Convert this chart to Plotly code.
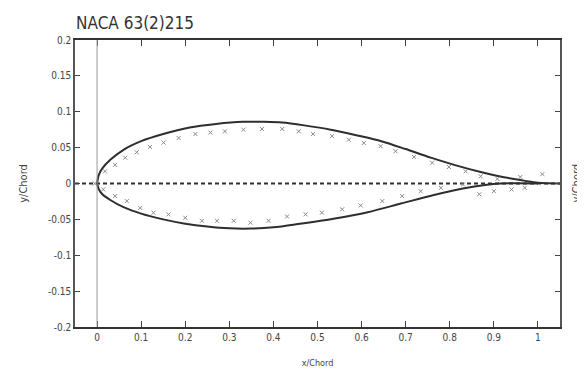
import plotly.graph_objects as go

# Solid airfoil (upper & lower surfaces)
upper_x = [0.0, 0.004, 0.012, 0.03, 0.06, 0.1, 0.15, 0.21, 0.27, 0.33, 0.38, 0.42, 0.47, 0.53, 0.59, 0.645, 0.70, 0.757, 0.81, 0.87, 0.92, 0.968, 1.0, 1.05]
upper_y = [0.0, 0.012, 0.021, 0.033, 0.047, 0.059, 0.069, 0.078, 0.083, 0.086, 0.086, 0.085, 0.081, 0.075, 0.067, 0.059, 0.048, 0.036, 0.026, 0.016, 0.009, 0.004, 0.001, 0.0]
lower_x = [0.0, 0.004, 0.012, 0.03, 0.06, 0.1, 0.15, 0.2, 0.25, 0.3, 0.35, 0.4, 0.46, 0.536, 0.614, 0.689, 0.764, 0.83, 0.88, 0.915, 1.0]
lower_y = [0.0, -0.008, -0.015, -0.023, -0.033, -0.042, -0.050, -0.056, -0.060, -0.0625, -0.0628, -0.061, -0.056, -0.049, -0.040, -0.028, -0.016, -0.007, -0.002, 0.0, 0.0]

# Comparison airfoil (marker points)
mark_upper_x = [-0.005, 0.018, 0.041, 0.064, 0.09, 0.12, 0.151, 0.185, 0.223, 0.257, 0.29, 0.332, 0.374, 0.42, 0.4575, 0.49, 0.533, 0.571, 0.605, 0.643, 0.677, 0.719, 0.76, 0.798, 0.836, 0.87, 0.908, 0.96, 1.01]
mark_upper_y = [0.0, 0.017, 0.026, 0.036, 0.0435, 0.051, 0.057, 0.0635, 0.069, 0.071, 0.0727, 0.075, 0.076, 0.076, 0.0727, 0.069, 0.066, 0.061, 0.0565, 0.052, 0.045, 0.037, 0.029, 0.023, 0.017, 0.010, 0.0065, 0.009, 0.013]
mark_lower_x = [0.014, 0.041, 0.0675, 0.098, 0.128, 0.162, 0.2, 0.238, 0.272, 0.31, 0.348, 0.389, 0.431, 0.473, 0.51, 0.556, 0.598, 0.647, 0.692, 0.734, 0.78, 0.83, 0.867, 0.9, 0.94, 0.97]
mark_lower_y = [-0.0083, -0.0176, -0.0245, -0.034, -0.0407, -0.043, -0.0477, -0.052, -0.052, -0.052, -0.0546, -0.052, -0.046, -0.043, -0.0407, -0.036, -0.0306, -0.0245, -0.0176, -0.0107, -0.006, -0.0014, -0.015, -0.0107, -0.0083, -0.006]

# Chord line
chord_x = [-0.05, 1.05]
chord_y = [0.0, 0.0]

x_ticks = [0, 0.1, 0.2, 0.3, 0.4, 0.5, 0.6, 0.7, 0.8, 0.9, 1]
x_ticktext = ["0", "0.1", "0.2", "0.3", "0.4", "0.5", "0.6", "0.7", "0.8", "0.9", "1"]
y_ticks = [0.2, 0.15, 0.1, 0.05, 0, -0.05, -0.1, -0.15, -0.2]
y_ticktext = ["0.2", "0.15", "0.1", "0.05", "0", "-0.05", "-0.1", "-0.15", "-0.2"]

LINE = "#2e2e2e"
FONT = "DejaVu Sans Condensed, Liberation Sans Narrow, sans-serif"

fig = go.Figure()
fig.add_trace(go.Scatter(x=chord_x, y=chord_y, mode="lines",
                         line=dict(color=LINE, width=2, dash="4px,3px"), hoverinfo="skip"))
fig.add_trace(go.Scatter(x=upper_x, y=upper_y, mode="lines",
                         line=dict(color=LINE, width=2, shape="spline", smoothing=0.8)))
fig.add_trace(go.Scatter(x=lower_x, y=lower_y, mode="lines",
                         line=dict(color=LINE, width=2, shape="spline", smoothing=0.8)))
fig.add_trace(go.Scatter(x=mark_upper_x + mark_lower_x, y=mark_upper_y + mark_lower_y, mode="markers",
                         marker=dict(symbol="x-thin", size=4, line=dict(color="#8a8a8a", width=1))))

fig.add_vline(x=0, line=dict(color="#999", width=1))

# page body has an 8px margin, so the figure is sized to fit the 585x376 window
fig.update_layout(
    width=577, height=368,
    margin=dict(l=67, r=25, t=32, b=49, autoexpand=False),
    paper_bgcolor="white", plot_bgcolor="white",
    showlegend=False,
    font=dict(family=FONT, color="#444", size=10),
    title=dict(text="NACA 63(2)215", x=0.118, xanchor="left", y=0.975, yanchor="top",
               font=dict(family=FONT, size=17, color="#333")),
)
fig.update_xaxes(range=[-0.05, 1.05], tickvals=x_ticks, ticktext=x_ticktext, automargin=False,
                 ticks="inside", ticklen=6, tickcolor="#444", showgrid=False, zeroline=False,
                 showline=True, linecolor="#333", linewidth=2, mirror="ticks",
                 title=dict(text="x/Chord", font=dict(size=9), standoff=18))
fig.update_yaxes(range=[-0.2, 0.2], tickvals=y_ticks, ticktext=y_ticktext, automargin=False,
                 ticks="inside", ticklen=5, tickcolor="#444", showgrid=False, zeroline=False,
                 showline=True, linecolor="#555", linewidth=1.5, mirror="ticks",
                 title=dict(text="y/Chord", font=dict(size=11), standoff=18))
fig.add_annotation(text="y/Chord", xref="paper", yref="paper", x=1.0, y=0.5,
                   xanchor="center", yanchor="middle",
                   xshift=16, textangle=-90, showarrow=False, font=dict(size=11, color="#444"))

fig.write_html("out.html")
